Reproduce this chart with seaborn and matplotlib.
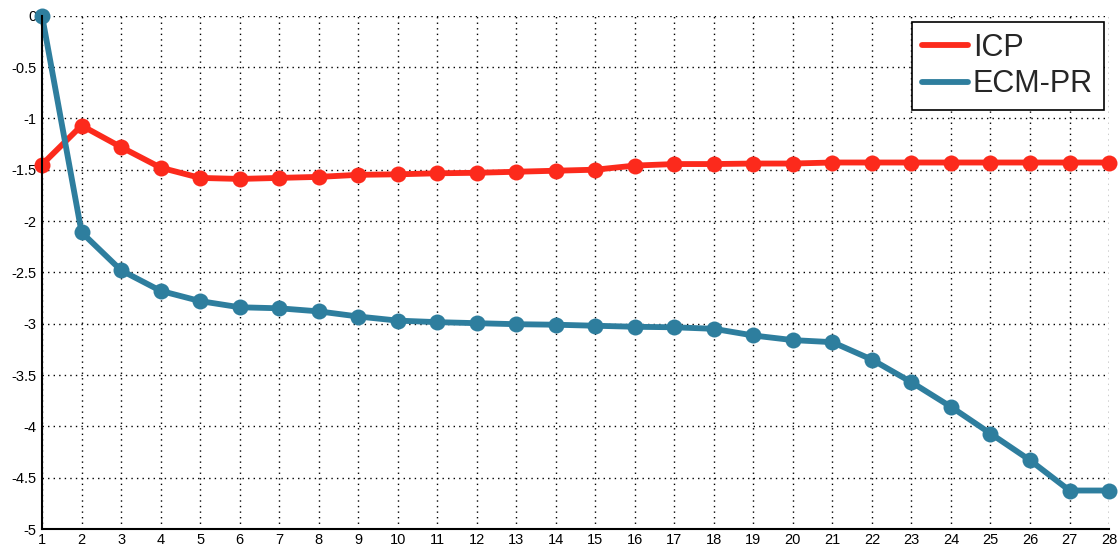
import numpy as np
import pandas as pd
import matplotlib
matplotlib.use("Agg")
import matplotlib.pyplot as plt
import seaborn as sns
from matplotlib.ticker import FormatStrFormatter, MultipleLocator

# Iteration index and per-method error (log scale)
iterations = list(range(1, 29))
icp = [-1.45, -1.07, -1.28, -1.48, -1.58, -1.59, -1.58, -1.57, -1.55, -1.545,
       -1.535, -1.53, -1.52, -1.51, -1.50, -1.46, -1.445, -1.445, -1.44, -1.44,
       -1.43, -1.43, -1.43, -1.43, -1.43, -1.43, -1.43, -1.43]
ecm_pr = [0.0, -2.11, -2.48, -2.68, -2.78, -2.84, -2.85, -2.88, -2.93, -2.97,
          -2.985, -2.995, -3.005, -3.01, -3.02, -3.03, -3.035, -3.05, -3.115, -3.16,
          -3.18, -3.35, -3.57, -3.81, -4.07, -4.33, -4.625, -4.625]
series_names = ["ICP", "ECM-PR"]
series_colors = ["#fc2a1c", "#2e7e9e"]

df = pd.DataFrame({
    "iteration": iterations * 2,
    "value": icp + ecm_pr,
    "method": [series_names[0]] * len(icp) + [series_names[1]] * len(ecm_pr),
})

sns.set_style("white")
plt.rcParams["font.family"] = ["Liberation Sans", "DejaVu Sans"]

fig = plt.figure(figsize=(11.18, 5.49), dpi=100)
ax = fig.add_axes([0.0376, 0.0364, 0.9544, 0.935])

sns.lineplot(data=df, x="iteration", y="value", hue="method",
             palette=dict(zip(series_names, series_colors)),
             marker="o", markersize=11.5, markeredgewidth=0, linewidth=4.2,
             ax=ax, legend=True)

ax.set_xlim(1, 28)
ax.set_ylim(-5, 0)
ax.set_xticks(iterations)
ax.yaxis.set_major_locator(MultipleLocator(0.5))
ax.yaxis.set_major_formatter(FormatStrFormatter("%g"))
ax.set_xlabel("")
ax.set_ylabel("")

ax.grid(True, linestyle=(0, (1, 3)), color="black", linewidth=1.0)
for side in ["top", "right"]:
    ax.spines[side].set_visible(False)
for side in ["left", "bottom"]:
    ax.spines[side].set_color("black")
    ax.spines[side].set_linewidth(1.5)

ax.tick_params(direction="in", length=12, width=1.5, colors="black",
               labelsize=10.5, pad=3)
ax.tick_params(axis="y", pad=4)

for line in ax.get_lines():
    line.set_clip_on(False)

handles, labels = ax.get_legend_handles_labels()
for h in handles:
    h.set_marker("")
    h.set_linewidth(4.2)
leg = ax.legend(handles, labels, loc="upper right", bbox_to_anchor=(0.995, 0.988),
                fontsize=22, frameon=True, fancybox=False, framealpha=1,
                edgecolor="black", handlelength=1.5, handletextpad=0.15,
                borderpad=0.35, labelspacing=0.22, borderaxespad=0)
leg.get_frame().set_linewidth(1.2)

fig.savefig("out.png", dpi=100)
